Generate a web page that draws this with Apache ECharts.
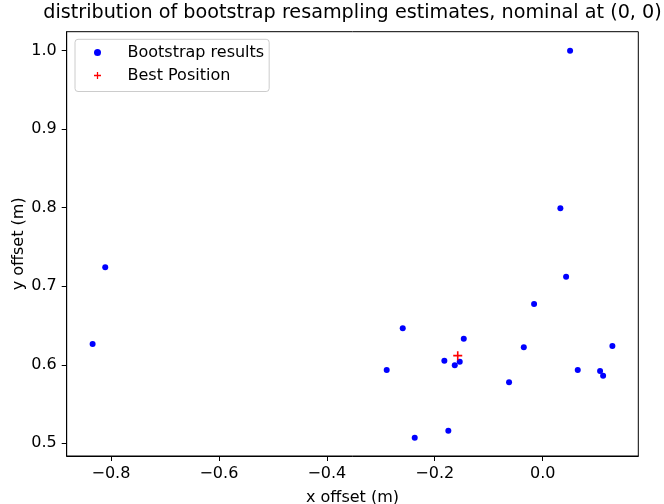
<!DOCTYPE html>
<html>
<head>
<meta charset="utf-8">
<script src="https://cdn.jsdelivr.net/npm/echarts@6/dist/echarts.min.js"></script>
<style>
html,body{margin:0;padding:0;background:#fff;}
#chart{width:664px;height:504px;}
</style>
</head>
<body>
<div id="chart"></div>
<script>
// Data
var bootX = [0.0508, 0.0328, 0.0434, -0.8106, -0.8340, -0.2593, -0.2890, -0.2371, -0.1748, -0.1822,
             -0.1629, -0.1537, -0.1462, -0.0350, -0.0159, -0.0623, 0.0650, 0.1064, 0.1120, 0.1292];
var bootY = [1.0000, 0.7993, 0.7122, 0.7242, 0.6265, 0.6465, 0.5933, 0.5071, 0.5160, 0.6052,
             0.5993, 0.6039, 0.6332, 0.6222, 0.6774, 0.5777, 0.5933, 0.5921, 0.5861, 0.6239];
var bestX = [-0.1574];
var bestY = [0.6116];
var xTicks = [-0.8, -0.6, -0.4, -0.2, 0.0];
var yTicks = [0.5, 0.6, 0.7, 0.8, 0.9, 1.0];
var xRange = [-0.882, 0.1772];
var yRange = [0.4838, 1.0242];
var seriesNames = ['Bootstrap results', 'Best Position'];

var FONT = 'DejaVu Sans';
var plusPath = 'path://M4.1,0H5.9V4.1H10V5.9H5.9V10H4.1V5.9H0V4.1H4.1Z';
function fmt(v) {
  var s = (Math.abs(v) < 1e-9 ? 0 : v).toFixed(1);
  return s.replace('-', '\u2212');
}
function zip(a, b) { return a.map(function (v, i) { return [v, b[i]]; }); }

var chart = echarts.init(document.getElementById('chart'), null, {renderer: 'canvas'});
chart.setOption({
  animation: false,
  backgroundColor: '#ffffff',
  textStyle: {fontFamily: FONT, color: '#000'},
  title: {
    text: 'distribution of bootstrap resampling estimates, nominal at (0, 0)',
    left: 352.5, top: 4, padding: 0, textAlign: 'center',
    textStyle: {fontFamily: FONT, fontSize: 19.2, fontWeight: 'normal', color: '#000'}
  },
  grid: {
    left: 66.7, right: 25.7, top: 31.7, bottom: 48,
    show: true, borderColor: '#000', borderWidth: 1, backgroundColor: 'transparent',
    containLabel: false, outerBoundsMode: 'none'
  },
  legend: {
    orient: 'vertical', left: 75, top: 39.3,
    itemWidth: 44, itemHeight: 7, itemGap: 4,
    padding: [3.7, 5, 6.5, 19],
    borderColor: '#cccccc', borderWidth: 1, borderRadius: 3,
    backgroundColor: 'rgba(255,255,255,0.8)',
    selectedMode: false,
    textStyle: {fontFamily: FONT, fontSize: 16, color: '#000', lineHeight: 19, padding: [0, 0, 0, 3]},
    data: [
      {name: seriesNames[0], icon: 'circle', itemStyle: {color: '#0000ff', borderWidth: 0}},
      {name: seriesNames[1], icon: plusPath, itemStyle: {color: '#ff0000', borderWidth: 0}}
    ]
  },
  xAxis: {
    type: 'value', min: xRange[0], max: xRange[1],
    name: 'x offset (m)', nameLocation: 'middle', nameGap: 34, nameMoveOverlap: false,
    nameTextStyle: {fontFamily: FONT, fontSize: 16, color: '#000'},
    axisLine: {show: true, onZero: false, lineStyle: {color: '#000', width: 1}},
    axisTick: {show: true, inside: false, length: 5, customValues: xTicks, lineStyle: {color: '#000', width: 1}},
    axisLabel: {show: true, margin: 10, customValues: xTicks, formatter: fmt,
      fontFamily: FONT, fontSize: 16, color: '#000'},
    splitLine: {show: false}
  },
  yAxis: {
    type: 'value', min: yRange[0], max: yRange[1],
    name: 'y offset (m)', nameLocation: 'middle', nameGap: 40, nameRotate: 90, nameMoveOverlap: false,
    nameTextStyle: {fontFamily: FONT, fontSize: 16, color: '#000'},
    axisLine: {show: true, onZero: false, lineStyle: {color: '#000', width: 1}},
    axisTick: {show: true, inside: false, length: 5, customValues: yTicks, lineStyle: {color: '#000', width: 1}},
    axisLabel: {show: true, margin: 10, customValues: yTicks, formatter: fmt,
      fontFamily: FONT, fontSize: 16, color: '#000'},
    splitLine: {show: false}
  },
  series: [
    {
      name: seriesNames[0], type: 'scatter', symbol: 'circle', symbolSize: 6,
      itemStyle: {color: '#0000ff', opacity: 1, borderWidth: 0},
      data: zip(bootX, bootY), z: 2
    },
    {
      name: seriesNames[1], type: 'scatter', symbol: plusPath, symbolSize: 9,
      itemStyle: {color: '#ff0000', opacity: 1, borderWidth: 0},
      data: zip(bestX, bestY), z: 3
    }
  ]
});
</script>
</body>
</html>
